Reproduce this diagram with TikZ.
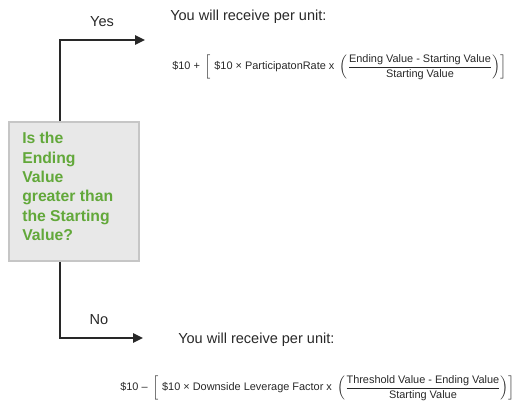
\documentclass[tikz,border=0pt]{standalone}
\usepackage{fontspec}
\setmainfont{Liberation Sans}
\usetikzlibrary{arrows.meta}
\definecolor{qgreen}{RGB}{98,168,58}
\definecolor{boxfill}{RGB}{232,232,232}
\definecolor{boxline}{RGB}{198,198,198}
\definecolor{ink}{RGB}{40,40,40}
\tikzset{
  qbox/.style={draw=boxline, fill=boxfill, line width=1.5pt, anchor=north west,
    minimum width=97.5pt, minimum height=104.25pt, inner sep=0pt},
  qtext/.style={font=\fontsize{11.8}{14.55}\selectfont\bfseries, text=qgreen,
    align=left, inner sep=0pt, anchor=north west},
  flow/.style={draw=ink, line width=1.3pt, -{Triangle[length=7.5pt,width=7pt]}},
  lbl/.style={font=\fontsize{10.9}{13}\selectfont, text=ink, inner sep=0pt},
  formula/.style={font=\fontsize{8.2}{9.5}\selectfont, text=ink, inner sep=0pt, anchor=west}
}
\begin{document}
\begin{tikzpicture}[x=0.75pt,y=-0.75pt]
\useasboundingbox (0,0) rectangle (521,409);
\node[qbox] (q) at (8,121) {};
\node[qtext] (qt) at (22,132) {Is the\\Ending\\Value\\greater than\\the Starting\\Value?};
\coordinate (ytip) at (145,40);
\coordinate (ntip) at (143,338);
\draw[flow] ([xshift=39pt]q.north west) |- (ytip);
\draw[flow] ([xshift=39pt]q.south west) |- (ntip);
\node[lbl] (yes) at (102,22) {Yes};
\node[lbl] (no) at (99,320) {No};
\node[lbl, anchor=west] (h1) at (170,17) {You will receive per unit:};
\node[lbl, anchor=west] (h2) at (178,340) {You will receive per unit:};
\node[formula] (f1) at (172,67) {$\displaystyle \mbox{\$10 +}\;\left[\;\mbox{\$10 × ParticipatonRate x}\;\left(\frac{\mbox{Ending Value - Starting Value}}{\mbox{Starting Value}}\right)\right]$};
\node[formula] (f2) at (120,388) {$\displaystyle \mbox{\$10 –}\;\left[\;\mbox{\$10 × Downside Leverage Factor x}\;\left(\frac{\mbox{Threshold Value - Ending Value}}{\mbox{Starting Value}}\right)\right]$};
\end{tikzpicture}
\end{document}
